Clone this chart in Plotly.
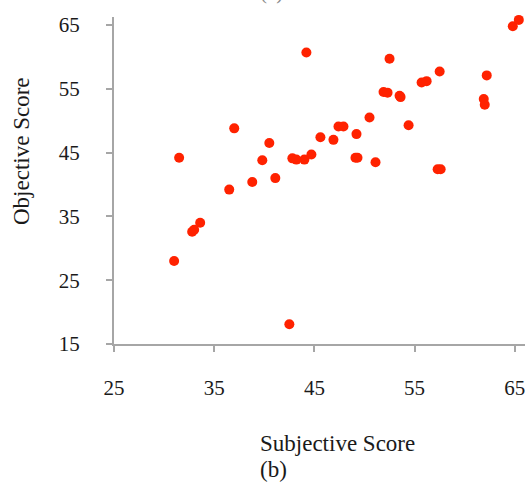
import plotly.graph_objects as go

subjective = [64.8, 65.4, 44.2, 52.5, 57.5, 62.2, 55.7, 56.2, 51.9, 52.3,
              53.5, 53.6, 61.9, 62.0, 50.5, 37.0, 47.4, 47.9, 54.4, 45.6,
              46.9, 49.2, 40.5, 31.5, 39.8, 42.8, 43.2, 44.0, 44.7, 49.1,
              49.3, 51.1, 57.3, 57.6, 38.8, 41.1, 36.5, 33.6, 32.8, 33.0,
              31.0, 42.5]
objective = [64.8, 65.8, 60.7, 59.7, 57.7, 57.1, 56.0, 56.2, 54.5, 54.4,
             53.9, 53.7, 53.4, 52.5, 50.5, 48.8, 49.1, 49.1, 49.3, 47.4,
             47.0, 47.9, 46.5, 44.2, 43.8, 44.1, 43.9, 43.9, 44.7, 44.2,
             44.2, 43.5, 42.4, 42.4, 40.4, 41.0, 39.2, 34.0, 32.6, 32.9,
             28.0, 18.1]

x_ticks = [25, 35, 45, 55, 65]
y_ticks = [15, 25, 35, 45, 55, 65]

FONT = "Liberation Serif"
AXIS_COLOR = "#A6A6A6"
TEXT_COLOR = "#1a1a1a"

fig = go.Figure(go.Scatter(
    x=subjective, y=objective, mode="markers",
    marker=dict(color="#FF2200", size=10, line=dict(width=0)),
    cliponaxis=False,
))

W, H = 525, 484
L, R, T, B = 114, 0, 17, 140
pw, ph = W - L - R, H - T - B

def px(xp):
    return (xp - L) / pw

def py(yp):
    return (H - B - yp) / ph

fig.update_layout(
    width=W, height=H,
    margin=dict(l=L, r=R, t=T, b=B, pad=0),
    plot_bgcolor="white", paper_bgcolor="white",
    showlegend=False,
    font=dict(family=FONT, size=21, color=TEXT_COLOR),
    xaxis=dict(
        range=[25, 25 + pw / 10.02], tickvals=x_ticks, ticktext=[str(v) for v in x_ticks],
        showgrid=False, zeroline=False, showline=True, linecolor=AXIS_COLOR, linewidth=2,
        ticks="outside", ticklen=6, tickwidth=2, tickcolor=AXIS_COLOR,
        ticklabelstandoff=18, ticklabeloverflow="allow",
    ),
    yaxis=dict(
        range=[15, 15 + ph / 6.38], tickvals=y_ticks, ticktext=[str(v) for v in y_ticks],
        showgrid=False, zeroline=False, showline=True, linecolor=AXIS_COLOR, linewidth=2,
        ticks="outside", ticklen=6, tickwidth=2, tickcolor=AXIS_COLOR,
        ticklabelstandoff=22, ticklabeloverflow="allow",
    ),
    annotations=[
        dict(text="Subjective Score", xref="paper", yref="paper", x=px(258), y=py(443),
             xanchor="left", yanchor="middle", showarrow=False,
             font=dict(family=FONT, size=23, color=TEXT_COLOR)),
        dict(text="(b)", xref="paper", yref="paper", x=px(258), y=py(469),
             xanchor="left", yanchor="middle", showarrow=False,
             font=dict(family=FONT, size=23, color=TEXT_COLOR)),
        dict(text="Objective Score", xref="paper", yref="paper", x=px(22), y=py(151),
             xanchor="center", yanchor="middle", showarrow=False, textangle=-90,
             font=dict(family=FONT, size=23, color=TEXT_COLOR)),
        dict(text="(a)", xref="paper", yref="paper", x=px(271), y=py(-8),
             xanchor="center", yanchor="middle", showarrow=False,
             font=dict(family=FONT, size=21, color="#888888")),
    ],
)

fig.write_html("out.html", config={"displayModeBar": False},
               post_script="document.body.style.margin='0';")
